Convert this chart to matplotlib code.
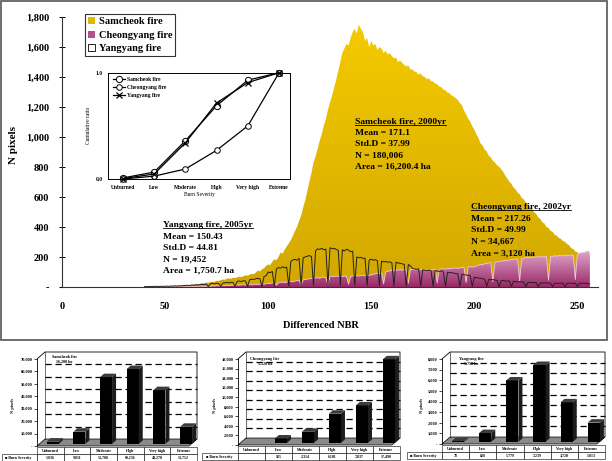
import matplotlib
matplotlib.use("Agg")
import numpy as np
import matplotlib.pyplot as plt
from matplotlib.patches import Patch, Polygon, Rectangle
from matplotlib.lines import Line2D
from matplotlib.ticker import FuncFormatter
from matplotlib.colors import LinearSegmentedColormap

plt.rcParams["font.family"] = ["Liberation Serif", "DejaVu Serif"]
plt.rcParams["font.weight"] = "bold"

# dNBR bins 40..256
dnbr = list(range(40, 257))

samcheok = [
    0, 0, 1, 0, 1, 1, 0, 2, 1, 2,
    2, 3, 2, 4, 3, 5, 4, 6, 8, 7,
    12, 10, 14, 13, 17, 20, 18, 22, 26, 24,
    30, 28, 33, 36, 34, 42, 40, 46, 50, 48,
    55, 58, 54, 62, 60, 65, 70, 66, 72, 78,
    75, 82, 88, 85, 96, 110, 104, 118, 126, 140,
    150, 146, 168, 185, 178, 200, 230, 222, 248, 270,
    290, 312, 340, 372, 400, 440, 475, 530, 580, 640,
    700, 760, 830, 870, 920, 975, 1020, 1075, 1120, 1180,
    1230, 1275, 1330, 1380, 1440, 1500, 1560, 1590, 1620, 1610,
    1660, 1700, 1720, 1690, 1750, 1720, 1700, 1640, 1660, 1600,
    1640, 1610, 1620, 1580, 1600, 1590, 1560, 1575, 1550, 1560,
    1540, 1525, 1530, 1500, 1510, 1495, 1480, 1470, 1478, 1452,
    1450, 1436, 1432, 1415, 1424, 1405, 1400, 1386, 1390, 1372,
    1370, 1356, 1352, 1336, 1332, 1316, 1312, 1296, 1292, 1276,
    1270, 1258, 1248, 1226, 1212, 1176, 1152, 1122, 1104, 1072,
    1050, 1018, 994, 958, 944, 916, 904, 876, 864, 842,
    830, 812, 802, 786, 768, 742, 724, 702, 688, 664,
    650, 630, 618, 594, 584, 562, 552, 530, 522, 498,
    488, 464, 454, 430, 424, 400, 394, 374, 368, 348,
    342, 326, 322, 306, 302, 286, 278, 258, 254, 236,
    232, 222, 224, 212, 216, 204, 206,
]

cheongyang = [
    0, 0, 0, 0, 0, 0, 0, 0, 0, 0,
    0, 0, 1, 0, 1, 1, 0, 1, 2, 1,
    2, 2, 3, 2, 3, 4, 3, 4, 5, 4,
    5, 6, 5, 7, 6, 8, 7, 8, 9, 8,
    10, 9, 11, 12, 10, 13, 12, 14, 15, 13,
    15, 16, 14, 17, 18, 16, 19, 20, 18, 22,
    25, 23, 26, 28, 12, 27, 30, 32, 29, 33,
    35, 38, 34, 40, 42, 45, 10, 48, 50, 52,
    55, 58, 53, 60, 62, 58, 64, 66, 60, 15,
    70, 72, 68, 74, 70, 72, 69, 73, 71, 18,
    70, 74, 72, 75, 73, 76, 78, 74, 80, 77,
    80, 84, 88, 92, 90, 95, 20, 100, 104, 108,
    110, 112, 108, 114, 115, 112, 116, 113, 25, 115,
    118, 114, 116, 119, 115, 117, 113, 118, 116, 114,
    115, 117, 28, 118, 120, 122, 119, 124, 121, 125,
    125, 128, 124, 127, 130, 132, 30, 134, 136, 133,
    135, 140, 145, 150, 148, 155, 158, 160, 162, 35,
    165, 168, 170, 172, 175, 178, 176, 180, 182, 185,
    185, 188, 40, 190, 192, 195, 198, 196, 200, 198,
    200, 202, 198, 204, 200, 205, 45, 206, 204, 208,
    205, 210, 207, 212, 208, 214, 210, 215, 212, 50,
    220, 225, 230, 228, 235, 240, 232,
]

yangyang = [
    2, 3, 2, 4, 3, 5, 4, 3, 5, 4,
    5, 6, 4, 7, 6, 8, 6, 9, 7, 10,
    10, 12, 9, 14, 12, 15, 13, 16, 18, 15,
    20, 3, 22, 24, 21, 25, 23, 4, 26, 28,
    30, 27, 32, 29, 5, 38, 40, 36, 42, 40,
    4, 48, 52, 50, 55, 58, 54, 5, 70, 75,
    100, 95, 104, 6, 120, 130, 125, 135, 128, 132,
    8, 170, 180, 185, 178, 190, 10, 195, 200, 205,
    210, 202, 10, 240, 255, 250, 258, 248, 252, 12,
    262, 255, 258, 250, 245, 12, 248, 240, 252, 246,
    235, 238, 10, 200, 195, 198, 190, 192, 10, 180,
    185, 178, 182, 175, 8, 172, 168, 170, 165, 168,
    162, 8, 165, 160, 158, 155, 150, 6, 150, 140,
    125, 120, 118, 122, 6, 115, 112, 110, 114, 108,
    5, 110, 106, 104, 108, 100, 5, 98, 95, 96,
    92, 90, 88, 4, 85, 82, 80, 78, 76, 4,
    65, 62, 60, 58, 55, 52, 4, 50, 48, 50,
    46, 45, 3, 42, 44, 40, 38, 42, 3, 38,
    36, 34, 35, 33, 32, 3, 30, 32, 28, 30,
    28, 3, 27, 26, 28, 25, 27, 24, 3, 26,
    25, 24, 26, 25, 3, 24, 26, 25, 24, 26,
    3, 25, 26, 24, 25, 22, 20,
]

severity = ["Unburned", "Low", "Moderate", "High", "Very high", "Extreme"]
cum_samcheok = [0.01, 0.065, 0.36, 0.69, 0.93, 1.0]
cum_cheongyang = [0.0, 0.027, 0.094, 0.27, 0.50, 1.0]
cum_yangyang = [0.004, 0.047, 0.34, 0.716, 0.907, 1.0]

cnt_samcheok = [1836, 9811, 53708, 60236, 43270, 13752]
cnt_cheongyang = [0, 925, 2314, 6101, 7837, 17490]
cnt_yangyang = [78, 828, 5779, 7239, 3720, 1813]

W, H = 612, 461
fig = plt.figure(figsize=(W / 100, H / 100), dpi=100)


def frac(l, t, r, b):
    return [l / W, 1 - b / H, (r - l) / W, (b - t) / H]


def grad_fill(ax, x, y, c0, c1, ymax, z):
    poly = ax.fill_between(x, 0, y, facecolor="none", edgecolor="none", zorder=z)
    cmap = LinearSegmentedColormap.from_list("g", [c0, c1])
    grad = np.linspace(0, 1, 256).reshape(-1, 1)
    im = ax.imshow(grad, cmap=cmap, extent=[x[0], x[-1], 0, ymax],
                   origin="lower", aspect="auto", zorder=z)
    im.set_clip_path(poly.get_paths()[0], transform=ax.transData)


# ---------------- main histogram ----------------
fig.add_artist(Rectangle((1 / W, 1 - 340 / H), 606 / W, 339 / H, transform=fig.transFigure,
                         fill=False, edgecolor="#555555", lw=1.2))

ax = fig.add_axes(frac(62, 17, 598, 287))
grad_fill(ax, dnbr, samcheok, "#d2a800", "#f4ca00", 1750, 1)
grad_fill(ax, dnbr, cheongyang, "#9a2866", "#dea6ca", 240, 2)
ax.plot(dnbr, cheongyang, color="#f2c8e0", lw=0.6, zorder=2.5)
ax.plot(dnbr, yangyang, color="#222222", lw=0.7, zorder=3)

ax.set_xlim(0, 260)
ax.set_ylim(0, 1800)
ax.set_xticks([0, 50, 100, 150, 200, 250])
ax.set_yticks(range(0, 1801, 200))
ax.yaxis.set_major_formatter(FuncFormatter(lambda v, p: "-" if v == 0 else f"{int(v):,}"))
for s in ["top", "right"]:
    ax.spines[s].set_visible(False)
for s in ["left", "bottom"]:
    ax.spines[s].set_linewidth(0.8)
    ax.spines[s].set_color("#333333")
ax.tick_params(axis="x", length=0, pad=11, labelsize=7.5)
ax.tick_params(axis="y", length=4, direction="inout", width=0.7, pad=7, labelsize=7.5)

fig.text(321 / W, 1 - 326 / H, "Differenced NBR", ha="center", va="center", fontsize=7.5)
fig.text(14 / W, 1 - 145 / H, "N pixels", ha="center", va="center", rotation=90, fontsize=8)

handles = [Patch(facecolor="#e2b800", edgecolor="none"),
           Patch(facecolor="#b5508f", edgecolor="none"),
           Patch(facecolor="white", edgecolor="black", lw=0.6)]
leg = ax.legend(handles, ["Samcheok fire", "Cheongyang fire", "Yangyang fire"],
                loc="upper left", bbox_to_anchor=((85 - 62) / 536, (287 - 14) / 270),
                frameon=True, fancybox=False, edgecolor="black", fontsize=7.5,
                handlelength=0.7, handleheight=0.7, handletextpad=0.3,
                borderpad=0.3, labelspacing=0.4, borderaxespad=0)
leg.get_frame().set_linewidth(0.8)

# stats annotations
notes = [
    (355, [121.7, 132.7, 143.7, 155, 166.7],
     ["Samcheok fire, 2000yr", "Mean = 171.1", "Std.D = 37.99", "N = 180,006", "Area = 16,200.4 ha"]),
    (471, [207.3, 218.7, 230, 241.3, 253],
     ["Cheongyang fire, 2002yr", "Mean = 217.26", "Std.D = 49.99", "N = 34,667", "Area = 3,120 ha"]),
    (163, [225, 236.7, 248, 259, 270.7],
     ["Yangyang fire, 2005yr", "Mean = 150.43", "Std.D = 44.81", "N = 19,452", "Area = 1,750.7 ha"]),
]
titles = []
for x, ys, lines in notes:
    for k, (yy, txt) in enumerate(zip(ys, lines)):
        t = fig.text(x / W, 1 - yy / H, txt, ha="left", va="center", fontsize=6.8, zorder=5)
        if k == 0:
            titles.append(t)

# ---------------- inset cumulative ratio ----------------
axi = fig.add_axes(frac(108, 72.7, 290, 179))
xs = list(range(len(severity)))
axi.plot(xs, cum_samcheok, color="black", lw=0.9, marker="o", mfc="white", mec="black",
         ms=4.5, mew=0.7, clip_on=False, label="Samcheok fire")
axi.plot(xs, cum_cheongyang, color="black", lw=0.9, marker="o", mfc="white", mec="black",
         ms=4, mew=0.7, clip_on=False, label="Cheongyang fire")
axi.plot(xs, cum_yangyang, color="black", lw=0.9, marker="x", ms=4.5, mew=0.9,
         clip_on=False, label="Yangyang fire")
axi.set_xlim(-0.48, 5.35)
axi.set_ylim(0, 1.0)
axi.set_xticks(xs)
axi.set_xticklabels(severity)
axi.set_yticks([0, 1.0])
axi.set_yticklabels(["0.0", "1.0"])
axi.tick_params(axis="x", length=0, pad=4, labelsize=4)
axi.tick_params(axis="y", length=0, pad=4, labelsize=4)
axi.set_xlabel("Burn Severity", fontsize=4, labelpad=2)
axi.set_ylabel("Cumulative ratio", fontsize=4, labelpad=3)
for s in axi.spines.values():
    s.set_linewidth(0.7)
axi.legend(loc="upper left", bbox_to_anchor=(0.01, 0.99), fontsize=4, frameon=False,
           handlelength=2.2, labelspacing=0.5, borderaxespad=0.2, handletextpad=0.3)


# ---------------- bottom bar panels ----------------
def bar_panel(L, R, y0, ytop, ymax, step, counts, title, tx, ty, lab_left, ylab_x):
    a = fig.add_axes(frac(L, ytop, R, y0))
    a.patch.set_alpha(0)
    a.set_xlim(-0.5, 5.5)
    a.set_ylim(0, ymax)
    colw = (R - L) / 6
    dx = 8 / colw
    dy = 7 / (y0 - ytop) * ymax
    a.add_patch(Polygon([(-0.5, 0), (5.5 - dx, 0), (5.5, dy), (-0.5 + dx, dy)], closed=True,
                        facecolor="#8a8a8a", edgecolor="black", lw=0.5, clip_on=False, zorder=1))
    a.plot([-0.5, -0.5 + dx, 5.5, 5.5], [ymax, ymax + dy, ymax + dy, dy],
           color="black", lw=0.6, clip_on=False, zorder=1)
    a.plot([-0.5 + dx, -0.5 + dx], [dy, ymax + dy], color="black", lw=0.4, clip_on=False, zorder=1)
    for v in range(step, ymax, step):
        a.plot([-0.5 + dx, 5.5], [v + dy, v + dy], color="black", lw=0.9,
               ls=(0, (5, 3)), zorder=1, clip_on=False)
    w = 0.45
    bx = [i + dx * 0.3 for i in range(len(counts))]
    by = dy * 0.3
    a.bar(bx, counts, width=w, bottom=by, color="black", zorder=3)
    for xc, v in zip(bx, counts):
        if not v:
            continue
        x0, x1 = xc - w / 2, xc + w / 2
        ox, oy = dx * 0.5, dy * 0.5
        a.add_patch(Polygon([(x1, by), (x1 + ox, by + oy), (x1 + ox, by + v + oy), (x1, by + v)],
                            closed=True, facecolor="#1c1c1c", edgecolor="none", zorder=3, clip_on=False))
        a.add_patch(Polygon([(x0, by + v), (x0 + ox, by + v + oy), (x1 + ox, by + v + oy), (x1, by + v)],
                            closed=True, facecolor="#3c3c3c", edgecolor="none", zorder=3, clip_on=False))
    for s in ["top", "right", "bottom"]:
        a.spines[s].set_visible(False)
    a.spines["left"].set_linewidth(0.6)
    a.set_xticks([])
    a.set_yticks(range(0, ymax + 1, step))
    a.yaxis.set_major_formatter(FuncFormatter(lambda v, p: "-" if v == 0 else f"{int(v):,}"))
    a.tick_params(axis="y", labelsize=3.2, length=2, width=0.5, pad=1)
    a.text(tx, ty, title, transform=a.transAxes, ha="center", va="center", fontsize=3,
           multialignment="center", zorder=4)
    ph = y0 - ytop
    cells = [["\u25a0 Burn Severity"] + [f"{v:,}" if v else "" for v in counts]]
    tb = a.table(cellText=cells, colLabels=[""] + severity,
                 colWidths=[L - lab_left] + [colw] * 6, cellLoc="center",
                 bbox=[(lab_left - L) / (R - L), -15 / ph, (R - lab_left) / (R - L), 14 / ph])
    tb.auto_set_font_size(False)
    tb.set_fontsize(2.8)
    for (r, c), cell in tb.get_celld().items():
        cell.set_linewidth(0.4)
        cell.get_text().set_fontweight("bold")
    tb[0, 0].visible_edges = "open"
    tb[1, 0]._loc = "left"
    tb[1, 0].get_text().set_ha("left")
    fig.text(ylab_x / W, 1 - 405 / H, "N pixels", rotation=90, ha="center", va="center", fontsize=3.2)
    return a


bar_panel(37, 197, 446, 359, 70000, 10000, cnt_samcheok, "Samcheok fire\n16,200 ha",
          0.17, 1.0, 2, 13)
bar_panel(238, 400, 445, 359, 18000, 2000, cnt_cheongyang, "Cheongyang fire\n3,120 ha",
          0.167, 0.977, 202, 215)
bar_panel(442, 605, 444, 359, 8000, 1000, cnt_yangyang, "Yangyang fire\n1,750 ha",
          0.178, 0.976, 407, 422)

# underline the annotation titles
fig.canvas.draw()
rend = fig.canvas.get_renderer()
inv = fig.transFigure.inverted()
for t in titles:
    bb = t.get_window_extent(rend)
    (x0, y0), (x1, _) = inv.transform([(bb.x0, bb.y0 + 1), (bb.x1, bb.y1)])
    fig.add_artist(Line2D([x0, x1], [y0, y0], transform=fig.transFigure, color="black", lw=0.6, zorder=5))

fig.savefig("out.png", dpi=100)
